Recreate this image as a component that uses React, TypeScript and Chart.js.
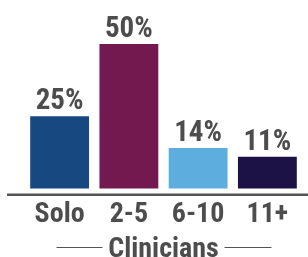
import React, { useEffect, useRef } from "react";
import { Chart, registerables } from "chart.js";

Chart.register(...registerables);

const categories = ["Solo", "2-5", "6-10", "11+"];
const values = [25, 50, 14, 11];
const valueLabels = ["25%", "50%", "14%", "11%"];
const barColors = ["#17487F", "#721A50", "#5EADDF", "#1D1245"];
const axisTitle = "Clinicians";

const FONT = "'Roboto Condensed', 'Open Sans', sans-serif";
const TEXT = "#4d4d4d";
const TITLE_LH = 0.6;
const TITLE_SIZE = 28;

const decor = {
  id: "decor",
  afterDatasetsDraw(chart: any) {
    const { ctx, chartArea } = chart;
    const meta = chart.getDatasetMeta(0);
    ctx.save();
    // value labels
    ctx.fillStyle = TEXT;
    ctx.font = `bold 29px ${FONT}`;
    ctx.textAlign = "center";
    ctx.textBaseline = "alphabetic";
    meta.data.forEach((bar: any, i: number) => {
      ctx.fillText(valueLabels[i], bar.x, bar.y - 7);
    });
    // baseline rule
    ctx.strokeStyle = "#555555";
    ctx.lineWidth = 2.5;
    ctx.beginPath();
    ctx.moveTo(7, chartArea.bottom + 0.5);
    ctx.lineTo(chart.width, chartArea.bottom + 0.5);
    ctx.stroke();
    // title side rules
    const xs = chart.scales.x;
    const cx = (xs.left + xs.right) / 2;
    const ty = Math.round(xs.bottom - (TITLE_SIZE * TITLE_LH) / 2 - 1.5) + 0.5;
    ctx.strokeStyle = "#555555";
    ctx.lineWidth = 1;
    ctx.beginPath();
    ctx.moveTo(cx - 61, ty);
    ctx.lineTo(cx - 107, ty);
    ctx.moveTo(cx + 61, ty);
    ctx.lineTo(cx + 108, ty);
    ctx.stroke();
    ctx.restore();
  },
};

export default function App() {
  const ref = useRef<HTMLCanvasElement>(null);
  useEffect(() => {
    if (!ref.current) return;
    const chart = new Chart(ref.current, {
      type: "bar",
      data: {
        labels: categories,
        datasets: [
          {
            data: values,
            backgroundColor: barColors,
            borderWidth: 0,
            barPercentage: 0.85,
            categoryPercentage: 1,
          },
        ],
      },
      options: {
        responsive: false,
        animation: false,
        layout: { padding: { top: 44, left: 25, right: 6, bottom: 0 } },
        plugins: { legend: { display: false }, tooltip: { enabled: false } },
        scales: {
          y: { display: false, min: -2, max: 50 },
          x: {
            grid: { display: false, drawTicks: false },
            border: { display: false },
            ticks: {
              color: TEXT,
              padding: 7,
              font: { family: FONT, size: 28, weight: "bold", lineHeight: 1 },
            },
            title: {
              display: true,
              text: axisTitle,
              color: TEXT,
              padding: { top: 5, bottom: -1 },
              font: { family: FONT, size: TITLE_SIZE, weight: "bold", lineHeight: TITLE_LH },
            },
          },
        },
      },
      plugins: [decor],
    });
    return () => chart.destroy();
  }, []);
  return (
    <div style={{ position: "fixed", left: 0, top: 0, width: 308, height: 257, background: "#fff" }}>
      <canvas ref={ref} width={308} height={257} />
    </div>
  );
}
